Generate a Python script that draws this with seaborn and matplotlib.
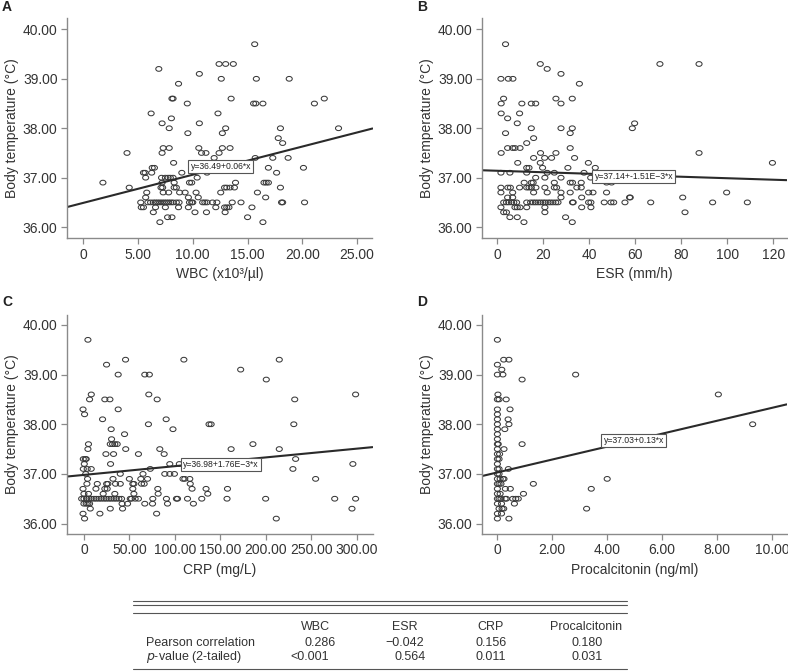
import numpy as np
import matplotlib
matplotlib.use('Agg')
import matplotlib.pyplot as plt
from matplotlib.path import Path
from matplotlib.ticker import FuncFormatter, FixedLocator
import seaborn as sns

# ── Panel A: WBC vs body temperature ─────────────────────────────
wbc = [15.65,
       12.4, 13.0, 13.7,
       6.9,
       10.6,
       12.6, 15.8, 18.8,
       8.7,
       8.1, 8.2, 13.5, 22.0,
       9.5, 15.55, 15.75, 16.4, 21.1,
       6.2, 12.3,
       8.05,
       7.2, 10.6,
       7.85, 13.0, 18.0, 23.3,
       9.55, 12.7,
       17.8,
       18.2,
       7.3, 7.85, 10.55, 12.7, 13.4,
       4.0, 7.2, 10.8, 11.2, 12.4,
       11.95, 15.7, 17.3, 18.7,
       8.25,
       6.3, 6.5, 16.9, 20.1,
       5.5, 5.65, 6.25, 9.0, 11.3, 17.65,
       5.7, 7.15, 7.5, 7.75, 7.95, 8.2, 10.4,
       1.8, 7.2, 8.3, 9.7, 9.9, 13.9, 16.5, 16.7, 16.9,
       4.2, 7.1, 7.25, 8.3, 8.5, 12.9, 13.1, 13.4, 13.8, 18.0,
       5.8, 7.3, 7.8, 8.8, 9.3, 10.3, 12.55, 15.9,
       5.7, 9.6, 10.5, 16.65,
       5.25, 5.9, 6.15, 6.4, 6.6, 6.8, 7.0, 7.2, 7.4, 7.6, 7.8, 8.0, 8.2, 8.5, 8.75,
       9.7, 9.9, 10.0, 10.9, 11.1, 11.3, 11.8, 12.2, 13.6, 14.4, 18.1, 18.2, 20.2,
       5.3, 5.5, 6.6, 7.5, 8.7, 9.6, 12.1, 12.9, 13.1, 13.3, 15.4,
       6.4, 10.2, 11.25, 12.95,
       7.7, 8.1, 15.0,
       7.0, 16.4]
temp_a = ([39.7] + [39.3] * 3 + [39.2] + [39.1] + [39.0] * 3 + [38.9] + [38.6] * 4
          + [38.5] * 5 + [38.3] * 2 + [38.2] + [38.1] * 2 + [38.0] * 4 + [37.9] * 2
          + [37.8] + [37.7] + [37.6] * 5 + [37.5] * 5 + [37.4] * 4 + [37.3] + [37.2] * 4
          + [37.1] * 6 + [37.0] * 7 + [36.9] * 9 + [36.8] * 10 + [36.7] * 8 + [36.6] * 4
          + [36.5] * 28 + [36.4] * 11 + [36.3] * 4 + [36.2] * 3 + [36.1] * 2)

# ── Panel B: ESR vs body temperature ─────────────────────────────
esr = [3.6,
       18.7, 70.7, 87.7,
       21.7,
       27.7,
       1.6, 4.8, 6.8,
       35.7,
       2.75, 25.5, 32.6,
       1.7, 10.7, 14.8, 16.7, 27.7,
       1.7, 9.7,
       4.5,
       8.7, 59.7,
       14.8, 27.7, 32.6, 58.7,
       3.6, 31.7,
       15.8,
       12.8,
       4.5, 6.7, 7.7, 9.9, 31.7,
       1.7, 18.8, 25.5, 87.7,
       15.8, 20.6, 23.6, 33.6,
       8.9, 18.7, 39.6, 119.6,
       12.8, 13.8, 19.7, 30.7, 42.6,
       1.6, 5.5, 12.8, 21.7, 24.8, 37.7,
       16.7, 20.7, 27.7, 40.6,
       11.7, 14.8, 15.6, 24.8, 31.7, 32.7, 36.5, 47.5, 49.7,
       1.6, 4.6, 5.7, 9.7, 12.8, 13.8, 14.8, 16.8, 20.7, 24.8, 25.8, 34.6, 36.5,
       1.6, 6.7, 15.8, 21.7, 27.7, 31.7, 39.7, 41.6, 47.5, 99.7,
       4.5, 6.7, 27.7, 36.7, 57.5, 57.8, 80.6,
       2.8, 4.0, 5.0, 6.2, 7.2, 8.4, 12.8, 14.5, 15.6, 16.6, 17.7, 18.8, 19.9, 20.9,
       22.1, 23.1, 24.2, 25.4, 26.4, 32.7, 33.0, 39.7, 40.7, 46.5, 49.4, 50.6, 55.5,
       66.7, 93.6, 108.7,
       1.6, 7.7, 8.7, 9.9, 12.8, 20.7, 36.7, 40.7,
       2.8, 4.0, 20.7, 81.6,
       5.5, 8.7, 29.7,
       11.6, 32.6]
temp_b = ([39.7] + [39.3] * 3 + [39.2] + [39.1] + [39.0] * 3 + [38.9] + [38.6] * 3
          + [38.5] * 5 + [38.3] * 2 + [38.2] + [38.1] * 2 + [38.0] * 4 + [37.9] * 2
          + [37.8] + [37.7] + [37.6] * 5 + [37.5] * 4 + [37.4] * 4 + [37.3] * 4
          + [37.2] * 5 + [37.1] * 6 + [37.0] * 4 + [36.9] * 9 + [36.8] * 13
          + [36.7] * 10 + [36.6] * 7 + [36.5] * 30 + [36.4] * 8 + [36.3] * 4
          + [36.2] * 3 + [36.1] * 2)

# ── Panel C: CRP vs body temperature ─────────────────────────────
crp = [4.4,
       45.8, 110, 215,
       24.9,
       172.5,
       37.7, 67, 72,
       200.7,
       8.1, 71.4, 299,
       6.2, 23, 28.6, 80.6, 232,
       -1, 37.7,
       0.7,
       20.5, 90.5,
       71, 137.7, 140, 231,
       30, 98,
       44.7,
       30.4,
       5.0, 29, 31.5, 34, 36.6, 186,
       4.4, 46, 83.5, 162, 215,
       24.2, 32.6, 60, 88.3,
       -0.7, 1.5, 2.5, 233,
       0.4, 29.3, 94.5, 105, 296,
       -0.7, 3.6, 8.0, 73, 230,
       2, 40, 65, 89, 94.5, 99.6,
       4, 32, 50, 62.6, 70, 109, 111, 116.5, 255,
       3.3, 14.7, 25, 26.4, 34.8, 40, 53.8, 55, 63.4, 66.3, 117,
       -1, 13.2, 23, 25.6, 53.8, 81.3, 119, 134.4, 158,
       0, 5, 21.2, 34, 55, 81.7, 136.3,
       -2.5, 0, 2.9, 5.5, 8.1, 11, 13.6, 16.5, 19.1, 22, 24.6, 27.5, 30.1, 33, 35.6,
       38.5, 41.4, 51, 52.4, 56.4, 60, 75.8, 90.8, 101.8, 103, 114, 129.7, 157.5,
       200, 276, 299,
       0, 2.5, 4.4, 6.2, 42, 48, 67, 75.5, 92, 120.5,
       7, 29, 42.5, 295,
       -1, 17.6, 80,
       0.7, 211.7]
temp_c = ([39.7] + [39.3] * 3 + [39.2] + [39.1] + [39.0] * 3 + [38.9] + [38.6] * 3
          + [38.5] * 5 + [38.3] * 2 + [38.2] + [38.1] * 2 + [38.0] * 4 + [37.9] * 2
          + [37.8] + [37.7] + [37.6] * 6 + [37.5] * 5 + [37.4] * 4 + [37.3] * 4
          + [37.2] * 5 + [37.1] * 5 + [37.0] * 6 + [36.9] * 9 + [36.8] * 11
          + [36.7] * 9 + [36.6] * 7 + [36.5] * 31 + [36.4] * 10 + [36.3] * 4
          + [36.2] * 3 + [36.1] * 2)

# ── Panel D: procalcitonin vs body temperature ───────────────────
pct = [0,
       0.23, 0.42,
       0,
       0.16,
       0, 0.2, 2.85,
       0.9,
       0.02, 8.05,
       0, 0.06, 0.32,
       0, 0.46,
       0,
       0, 0.39,
       0, 0.42, 9.3,
       0, 0.27,
       0,
       0,
       0, 0.03, 0.9,
       0, 0.24,
       0, 0.08,
       0, 0.06,
       0,
       0, 0.06, 0.4,
       0, 0.06,
       0, 0.1, 0.2, 0.24, 4.0,
       0, 0.06, 0.13, 1.31,
       0, 0.29, 0.47, 3.42,
       0, 0.1, 0.95,
       0, 0.06, 0.13, 0.28, 0.33, 0.56, 0.67, 0.76,
       0, 0.15, 0.62,
       0.06, 0.17, 0.23, 3.25,
       0, 0.15,
       0, 0.42]
temp_d = ([39.7] + [39.3] * 2 + [39.2] + [39.1] + [39.0] * 3 + [38.9] + [38.6] * 2
          + [38.5] * 3 + [38.3] * 2 + [38.2] + [38.1] * 2 + [38.0] * 3 + [37.9] * 2
          + [37.8] + [37.7] + [37.6] * 3 + [37.5] * 2 + [37.4] * 2 + [37.3] * 2
          + [37.2] + [37.1] * 3 + [37.0] * 2 + [36.9] * 5 + [36.8] * 4 + [36.7] * 4
          + [36.6] * 3 + [36.5] * 8 + [36.4] * 3 + [36.3] * 4 + [36.2] * 2 + [36.1] * 2)

# ── Regression lines (intercept, slope, label) ───────────────────
intercepts = [36.49, 37.14, 36.98, 37.03]
slopes = [0.057, -1.51e-3, 1.76e-3, 0.13]
eq_labels = ['y=36.49+0.06*x', 'y=37.14+-1.51E\u22123*x',
             'y=36.98+1.76E\u22123*x', 'y=37.03+0.13*x']
eq_pos = [(9.8, 37.22), (42.3, 37.02), (109, 37.19), (3.87, 37.67)]

x_labels = ['WBC (x10\u00b3/\u00b5l)', 'ESR (mm/h)', 'CRP (mg/L)', 'Procalcitonin (ng/ml)']
panel_letters = ['A', 'B', 'C', 'D']

# ── Table below the plots ────────────────────────────────────────
table_cols = ['WBC', 'ESR', 'CRP', 'Procalcitonin']
pearson_r = ['0.286', '\u22120.042', '0.156', '0.180']
p_values = ['<0.001', '0.564', '0.011', '0.031']

# ── Figure ───────────────────────────────────────────────────────
sns.set_style('ticks')
plt.rcParams['font.family'] = ['Liberation Sans', 'DejaVu Sans']

W, H = 788, 671
fig = plt.figure(figsize=(W / 100, H / 100), dpi=100)


def box(l, t, r, b):
    return [l / W, 1 - b / H, (r - l) / W, (b - t) / H]


boxes = [box(67.3, 18, 372.5, 238), box(482.3, 18, 786.7, 238),
         box(67.3, 315, 372.5, 533.5), box(482.3, 315, 786.7, 533.5)]
xlims = [(-1.45, 26.4), (-6.5, 125.8), (-18.3, 317.6), (-0.55, 10.54)]
xticks = [[0, 5, 10, 15, 20, 25], [0, 20, 40, 60, 80, 100, 120],
          [0, 50, 100, 150, 200, 250, 300], [0, 2, 4, 6, 8, 10]]
ylims = [(35.78, 40.23), (35.78, 40.23), (35.8, 40.2), (35.8, 40.2)]
data = [(wbc, temp_a), (esr, temp_b), (crp, temp_c), (pct, temp_d)]
letter_pos = [(7, 7), (422, 7), (7, 302), (422, 302)]

# slightly flattened open circle, like the SPSS markers
circ = Path.unit_circle()
ellipse = Path(circ.vertices * np.array([1.0, 0.78]), circ.codes)

fmt_dec = FuncFormatter(lambda v, p: '0' if v == 0 else f'{v:.2f}')
fmt_int = FuncFormatter(lambda v, p: f'{v:.0f}')
GREY = '#8a8a8a'

for i in range(4):
    ax = fig.add_axes(boxes[i])
    xs, ys = data[i]
    sns.scatterplot(x=xs, y=ys, ax=ax, marker=ellipse, s=19,
                    facecolor='none', edgecolor='#3a3a3a', linewidth=0.75)
    ax.set_xlim(xlims[i])
    ax.set_ylim(ylims[i])

    lx = np.array(xlims[i])
    ax.plot(lx, intercepts[i] + slopes[i] * lx, color='#2a2a2a', lw=1.5)

    ax.text(eq_pos[i][0], eq_pos[i][1], eq_labels[i], fontsize=6.2,
            ha='left', va='center', color='#222222',
            bbox=dict(boxstyle='square,pad=0.25', facecolor='white',
                      edgecolor='#555555', lw=0.8))

    ax.xaxis.set_major_locator(FixedLocator(xticks[i]))
    ax.yaxis.set_major_locator(FixedLocator([36, 37, 38, 39, 40]))
    ax.xaxis.set_major_formatter(fmt_int if i == 1 else fmt_dec)
    ax.yaxis.set_major_formatter(FuncFormatter(lambda v, p: f'{v:.2f}'))
    ax.tick_params(direction='out', length=4, width=0.9, color=GREY,
                   labelsize=10, labelcolor='#333333', pad=3)

    sns.despine(ax=ax)
    for s in ['left', 'bottom']:
        ax.spines[s].set_color(GREY)
        ax.spines[s].set_linewidth(1.0)

    ax.set_xlabel(x_labels[i], fontsize=10, color='#333333', labelpad=4)
    ax.set_ylabel('Body temperature (\u00b0C)', fontsize=10, color='#333333', labelpad=3)

    fig.text(letter_pos[i][0] / W, 1 - letter_pos[i][1] / H, panel_letters[i],
             fontsize=10, fontweight='bold', ha='center', va='center', color='#222222')

# table drawn in pixel space
tab = fig.add_axes([0, 0, 1, 1], zorder=-1)
tab.set_xlim(0, W)
tab.set_ylim(H, 0)
tab.axis('off')

for yl in [601, 605, 613.3, 669.3]:
    tab.plot([133.3, 626.7], [yl, yl], color='#555555', lw=0.8)

col_x = [316, 405, 491, 586]
r_x = [320, 405, 491, 587]
p_x = [309.5, 410, 491, 587]
for j in range(4):
    tab.text(col_x[j], 626.7, table_cols[j], fontsize=9, ha='center', va='center', color='#333333')
    tab.text(r_x[j], 642.7, pearson_r[j], fontsize=9, ha='center', va='center', color='#333333')
    tab.text(p_x[j], 657.3, p_values[j], fontsize=9, ha='center', va='center', color='#333333')

tab.text(146, 642.7, 'Pearson correlation', fontsize=9, ha='left', va='center', color='#333333')
tab.text(146, 657.3, '$\\mathit{p}$-value (2-tailed)', fontsize=9, ha='left', va='center',
         color='#333333')

plt.savefig('out.png', dpi=100)
plt.close()
